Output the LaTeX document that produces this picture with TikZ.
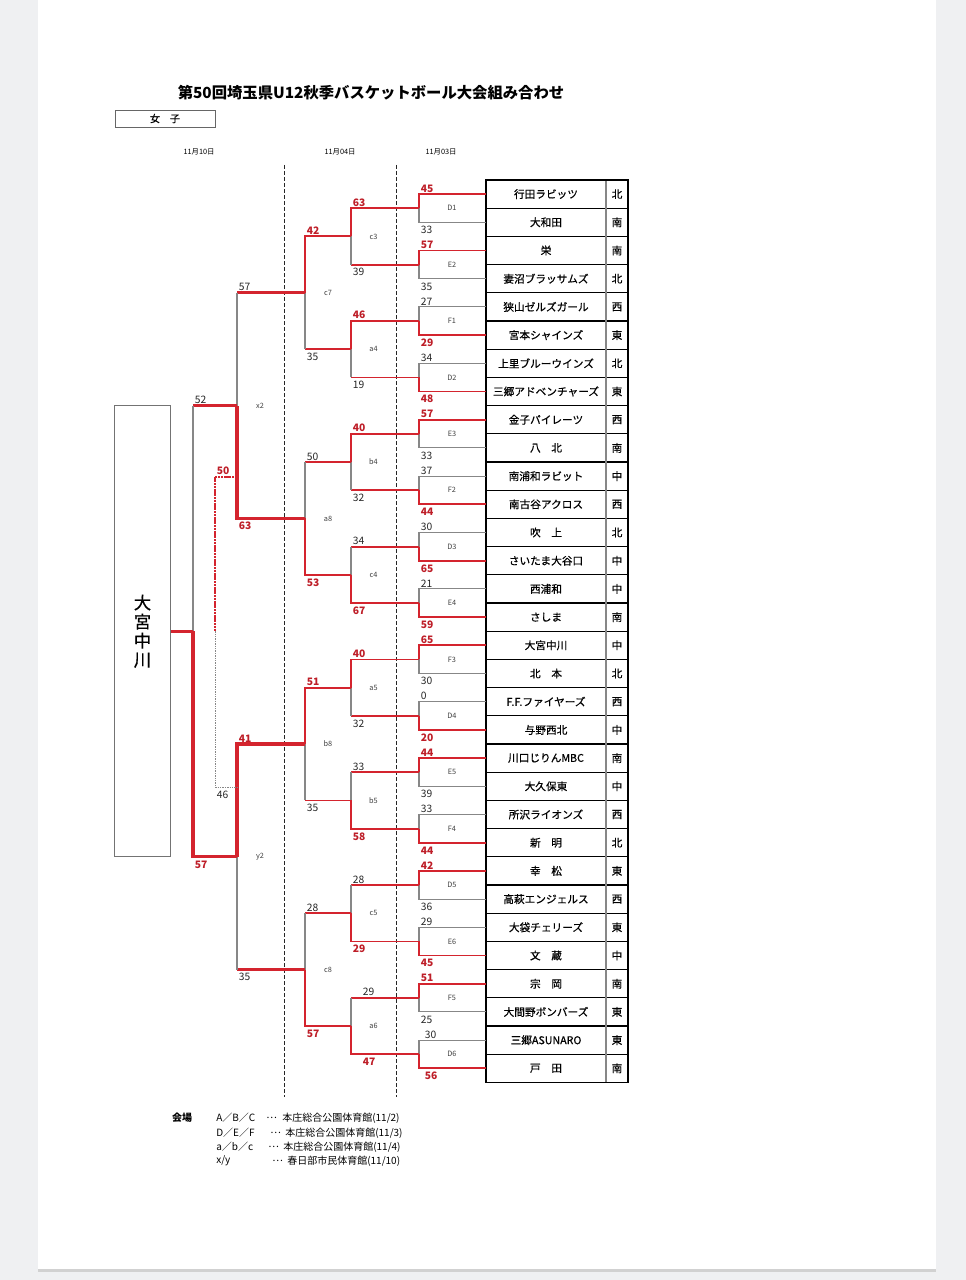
\documentclass[tikz,border=0pt]{standalone}
\usepackage{fontspec}
\setmainfont{Noto Sans CJK JP}
\newfontfamily\namefont[FakeBold=0.6]{Noto Sans CJK JP}
\usetikzlibrary{positioning,calc}

\definecolor{winred}{RGB}{212,36,46}
\definecolor{scred}{RGB}{190,30,40}
\definecolor{losegray}{RGB}{135,135,135}
\definecolor{pagebg}{RGB}{239,240,242}

\tikzset{
  team/.style={draw=black, line width=0.8pt, minimum width=90pt, minimum height=21.15pt,
    inner sep=0pt, outer sep=0pt, font=\namefont\fontsize{8}{9}\selectfont},
  area/.style={team, minimum width=16.5pt},
  win/.style={draw=winred, line width=1.35pt},
  winthick/.style={draw=winred, line width=2.3pt},
  lose/.style={draw=losegray, line width=0.8pt},
  wsc/.style={text=scred, font=\bfseries\fontsize{7.7}{8}\selectfont},
  lsc/.style={text=black!85, font=\fontsize{7.7}{8}\selectfont},
  up/.style={anchor=south west, inner sep=1.2pt},
  dn/.style={anchor=north west, inner sep=1.2pt, yshift=-1.5pt},
  mlbl/.style={text=black!75, font=\fontsize{5.5}{6}\selectfont},
  daylbl/.style={font=\fontsize{5.5}{6}\selectfont},
  divider/.style={draw=black!85, line width=0.75pt, dash pattern=on 3pt off 1.5pt},
  legend/.style={anchor=west, inner sep=0pt, font=\fontsize{7.5}{8}\selectfont},
}

\begin{document}
\begin{tikzpicture}[x=0.75pt, y=-0.75pt]
  \useasboundingbox (0,0) rectangle (966,1280);
  % Page
  \fill[pagebg] (0,0) rectangle (966,1280);
  \fill[black!18] (38,1269) rectangle (936,1272);
  \fill[white] (38,0) rectangle (936,1269);

  % Heading
  \node[font=\bfseries\fontsize{11.5}{12}\selectfont] (title) at (371,93) {第50回埼玉県U12秋季バスケットボール大会組み合わせ};
  \node[draw=black!60, line width=0.6pt, minimum width=75pt, minimum height=12.75pt, inner sep=0pt,
    font=\namefont\fontsize{7.5}{8}\selectfont] (sex) at (165,118.5) {女　子};
  \node[daylbl] (d1) at (199,152) {11月10日};
  \node[daylbl] (d2) at (340,152) {11月04日};
  \node[daylbl] (d3) at (441,152) {11月03日};
  \draw[divider] (284,165) -- (284,1097);
  \draw[divider] (396,165) -- (396,1097);

  % Teams
  \node[team, anchor=north west] (t1) at (486,180) {行田ラビッツ};
  \node[team, below=0pt of t1] (t2) {大和田};
  \node[team, below=0pt of t2] (t3) {栄};
  \node[team, below=0pt of t3] (t4) {妻沼ブラッサムズ};
  \node[team, below=0pt of t4] (t5) {狭山ゼルズガール};
  \node[team, below=0pt of t5] (t6) {宮本シャインズ};
  \node[team, below=0pt of t6] (t7) {上里ブルーウインズ};
  \node[team, below=0pt of t7] (t8) {三郷アドベンチャーズ};
  \node[team, below=0pt of t8] (t9) {金子パイレーツ};
  \node[team, below=0pt of t9] (t10) {八　北};
  \node[team, below=0pt of t10] (t11) {南浦和ラビット};
  \node[team, below=0pt of t11] (t12) {南古谷アクロス};
  \node[team, below=0pt of t12] (t13) {吹　上};
  \node[team, below=0pt of t13] (t14) {さいたま大谷口};
  \node[team, below=0pt of t14] (t15) {西浦和};
  \node[team, below=0pt of t15] (t16) {さしま};
  \node[team, below=0pt of t16] (t17) {大宮中川};
  \node[team, below=0pt of t17] (t18) {北　本};
  \node[team, below=0pt of t18] (t19) {F.F.ファイヤーズ};
  \node[team, below=0pt of t19] (t20) {与野西北};
  \node[team, below=0pt of t20] (t21) {川口じりんMBC};
  \node[team, below=0pt of t21] (t22) {大久保東};
  \node[team, below=0pt of t22] (t23) {所沢ライオンズ};
  \node[team, below=0pt of t23] (t24) {新　明};
  \node[team, below=0pt of t24] (t25) {幸　松};
  \node[team, below=0pt of t25] (t26) {高萩エンジェルス};
  \node[team, below=0pt of t26] (t27) {大袋チェリーズ};
  \node[team, below=0pt of t27] (t28) {文　蔵};
  \node[team, below=0pt of t28] (t29) {宗　岡};
  \node[team, below=0pt of t29] (t30) {大間野ボンバーズ};
  \node[team, below=0pt of t30] (t31) {三郷ASUNARO};
  \node[team, below=0pt of t31] (t32) {戸　田};

  % Districts
  \node[area, right=0pt of t1] (r1) {北};
  \node[area, right=0pt of t2] (r2) {南};
  \node[area, right=0pt of t3] (r3) {南};
  \node[area, right=0pt of t4] (r4) {北};
  \node[area, right=0pt of t5] (r5) {西};
  \node[area, right=0pt of t6] (r6) {東};
  \node[area, right=0pt of t7] (r7) {北};
  \node[area, right=0pt of t8] (r8) {東};
  \node[area, right=0pt of t9] (r9) {西};
  \node[area, right=0pt of t10] (r10) {南};
  \node[area, right=0pt of t11] (r11) {中};
  \node[area, right=0pt of t12] (r12) {西};
  \node[area, right=0pt of t13] (r13) {北};
  \node[area, right=0pt of t14] (r14) {中};
  \node[area, right=0pt of t15] (r15) {中};
  \node[area, right=0pt of t16] (r16) {南};
  \node[area, right=0pt of t17] (r17) {中};
  \node[area, right=0pt of t18] (r18) {北};
  \node[area, right=0pt of t19] (r19) {西};
  \node[area, right=0pt of t20] (r20) {中};
  \node[area, right=0pt of t21] (r21) {南};
  \node[area, right=0pt of t22] (r22) {中};
  \node[area, right=0pt of t23] (r23) {西};
  \node[area, right=0pt of t24] (r24) {北};
  \node[area, right=0pt of t25] (r25) {東};
  \node[area, right=0pt of t26] (r26) {西};
  \node[area, right=0pt of t27] (r27) {東};
  \node[area, right=0pt of t28] (r28) {中};
  \node[area, right=0pt of t29] (r29) {南};
  \node[area, right=0pt of t30] (r30) {東};
  \node[area, right=0pt of t31] (r31) {東};
  \node[area, right=0pt of t32] (r32) {南};
  \draw[losegray, line width=1.4pt] (t1.north east) -- (t32.south east);
  \draw[line width=1.2pt] (t1.north west) rectangle (r32.south east);

  % Round 1 (11/03)
  \coordinate (D1) at ($(t1.west)!.5!(t2.west)+(-67,0)$);
  \draw[lose] (t2.west) -| (D1); \draw[win] (t1.west) -| (D1);
  \node[wsc, up] (sD1a) at (t1.west -| D1) {45}; \node[lsc, dn] (sD1b) at (t2.west -| D1) {33};
  \node[mlbl] (lD1) at ($(D1)+(33,0)$) {D1};

  \coordinate (E2) at ($(t3.west)!.5!(t4.west)+(-67,0)$);
  \draw[lose] (t4.west) -| (E2); \draw[win] (t3.west) -| (E2);
  \node[wsc, up] (sE2a) at (t3.west -| E2) {57}; \node[lsc, dn] (sE2b) at (t4.west -| E2) {35};
  \node[mlbl] (lE2) at ($(E2)+(33,0)$) {E2};

  \coordinate (F1) at ($(t5.west)!.5!(t6.west)+(-67,0)$);
  \draw[lose] (t5.west) -| (F1); \draw[win] (t6.west) -| (F1);
  \node[lsc, up] (sF1a) at (t5.west -| F1) {27}; \node[wsc, dn] (sF1b) at (t6.west -| F1) {29};
  \node[mlbl] (lF1) at ($(F1)+(33,0)$) {F1};

  \coordinate (D2) at ($(t7.west)!.5!(t8.west)+(-67,0)$);
  \draw[lose] (t7.west) -| (D2); \draw[win] (t8.west) -| (D2);
  \node[lsc, up] (sD2a) at (t7.west -| D2) {34}; \node[wsc, dn] (sD2b) at (t8.west -| D2) {48};
  \node[mlbl] (lD2) at ($(D2)+(33,0)$) {D2};

  \coordinate (E3) at ($(t9.west)!.5!(t10.west)+(-67,0)$);
  \draw[lose] (t10.west) -| (E3); \draw[win] (t9.west) -| (E3);
  \node[wsc, up] (sE3a) at (t9.west -| E3) {57}; \node[lsc, dn] (sE3b) at (t10.west -| E3) {33};
  \node[mlbl] (lE3) at ($(E3)+(33,0)$) {E3};

  \coordinate (F2) at ($(t11.west)!.5!(t12.west)+(-67,0)$);
  \draw[lose] (t11.west) -| (F2); \draw[win] (t12.west) -| (F2);
  \node[lsc, up] (sF2a) at (t11.west -| F2) {37}; \node[wsc, dn] (sF2b) at (t12.west -| F2) {44};
  \node[mlbl] (lF2) at ($(F2)+(33,0)$) {F2};

  \coordinate (D3) at ($(t13.west)!.5!(t14.west)+(-67,0)$);
  \draw[lose] (t13.west) -| (D3); \draw[win] (t14.west) -| (D3);
  \node[lsc, up] (sD3a) at (t13.west -| D3) {30}; \node[wsc, dn] (sD3b) at (t14.west -| D3) {65};
  \node[mlbl] (lD3) at ($(D3)+(33,0)$) {D3};

  \coordinate (E4) at ($(t15.west)!.5!(t16.west)+(-67,0)$);
  \draw[lose] (t15.west) -| (E4); \draw[win] (t16.west) -| (E4);
  \node[lsc, up] (sE4a) at (t15.west -| E4) {21}; \node[wsc, dn] (sE4b) at (t16.west -| E4) {59};
  \node[mlbl] (lE4) at ($(E4)+(33,0)$) {E4};

  \coordinate (F3) at ($(t17.west)!.5!(t18.west)+(-67,0)$);
  \draw[lose] (t18.west) -| (F3); \draw[win] (t17.west) -| (F3);
  \node[wsc, up] (sF3a) at (t17.west -| F3) {65}; \node[lsc, dn] (sF3b) at (t18.west -| F3) {30};
  \node[mlbl] (lF3) at ($(F3)+(33,0)$) {F3};

  \coordinate (D4) at ($(t19.west)!.5!(t20.west)+(-67,0)$);
  \draw[lose] (t19.west) -| (D4); \draw[win] (t20.west) -| (D4);
  \node[lsc, up] (sD4a) at (t19.west -| D4) {0}; \node[wsc, dn] (sD4b) at (t20.west -| D4) {20};
  \node[mlbl] (lD4) at ($(D4)+(33,0)$) {D4};

  \coordinate (E5) at ($(t21.west)!.5!(t22.west)+(-67,0)$);
  \draw[lose] (t22.west) -| (E5); \draw[win] (t21.west) -| (E5);
  \node[wsc, up] (sE5a) at (t21.west -| E5) {44}; \node[lsc, dn] (sE5b) at (t22.west -| E5) {39};
  \node[mlbl] (lE5) at ($(E5)+(33,0)$) {E5};

  \coordinate (F4) at ($(t23.west)!.5!(t24.west)+(-67,0)$);
  \draw[lose] (t23.west) -| (F4); \draw[win] (t24.west) -| (F4);
  \node[lsc, up] (sF4a) at (t23.west -| F4) {33}; \node[wsc, dn] (sF4b) at (t24.west -| F4) {44};
  \node[mlbl] (lF4) at ($(F4)+(33,0)$) {F4};

  \coordinate (D5) at ($(t25.west)!.5!(t26.west)+(-67,0)$);
  \draw[lose] (t26.west) -| (D5); \draw[win] (t25.west) -| (D5);
  \node[wsc, up] (sD5a) at (t25.west -| D5) {42}; \node[lsc, dn] (sD5b) at (t26.west -| D5) {36};
  \node[mlbl] (lD5) at ($(D5)+(33,0)$) {D5};

  \coordinate (E6) at ($(t27.west)!.5!(t28.west)+(-67,0)$);
  \draw[lose] (t27.west) -| (E6); \draw[win] (t28.west) -| (E6);
  \node[lsc, up] (sE6a) at (t27.west -| E6) {29}; \node[wsc, dn] (sE6b) at (t28.west -| E6) {45};
  \node[mlbl] (lE6) at ($(E6)+(33,0)$) {E6};

  \coordinate (F5) at ($(t29.west)!.5!(t30.west)+(-67,0)$);
  \draw[lose] (t30.west) -| (F5); \draw[win] (t29.west) -| (F5);
  \node[wsc, up] (sF5a) at (t29.west -| F5) {51}; \node[lsc, dn] (sF5b) at (t30.west -| F5) {25};
  \node[mlbl] (lF5) at ($(F5)+(33,0)$) {F5};

  \coordinate (D6) at ($(t31.west)!.5!(t32.west)+(-67,0)$);
  \draw[lose] (t31.west) -| (D6); \draw[win] (t32.west) -| (D6);
  \node[lsc, up, xshift=3pt] (sD6a) at (t31.west -| D6) {30}; \node[wsc, dn, xshift=3pt] (sD6b) at (t32.west -| D6) {56};
  \node[mlbl] (lD6) at ($(D6)+(33,0)$) {D6};

  % Round 2 (11/04)
  \coordinate (c3) at ($(D1)!.5!(E2)+(-68,0)$);
  \draw[win] (E2) -- (E2 -| c3) edge[lose] (c3); \draw[win] (D1) -| (c3);
  \node[wsc, up] (sc3a) at (D1 -| c3) {63}; \node[lsc, dn] (sc3b) at (E2 -| c3) {39};
  \node[mlbl] (lc3) at ($(c3)+(22.5,0)$) {c3};

  \coordinate (a4) at ($(F1)!.5!(D2)+(-68,0)$);
  \draw[win] (D2) -- (D2 -| a4) edge[lose] (a4); \draw[win] (F1) -| (a4);
  \node[wsc, up] (sa4a) at (F1 -| a4) {46}; \node[lsc, dn] (sa4b) at (D2 -| a4) {19};
  \node[mlbl] (la4) at ($(a4)+(22.5,0)$) {a4};

  \coordinate (b4) at ($(E3)!.5!(F2)+(-68,0)$);
  \draw[win] (F2) -- (F2 -| b4) edge[lose] (b4); \draw[win] (E3) -| (b4);
  \node[wsc, up] (sb4a) at (E3 -| b4) {40}; \node[lsc, dn] (sb4b) at (F2 -| b4) {32};
  \node[mlbl] (lb4) at ($(b4)+(22.5,0)$) {b4};

  \coordinate (c4) at ($(D3)!.5!(E4)+(-68,0)$);
  \draw[win] (D3) -- (D3 -| c4) edge[lose] (c4); \draw[win] (E4) -| (c4);
  \node[lsc, up] (sc4a) at (D3 -| c4) {34}; \node[wsc, dn] (sc4b) at (E4 -| c4) {67};
  \node[mlbl] (lc4) at ($(c4)+(22.5,0)$) {c4};

  \coordinate (a5) at ($(F3)!.5!(D4)+(-68,0)$);
  \draw[win] (D4) -- (D4 -| a5) edge[lose] (a5); \draw[win] (F3) -| (a5);
  \node[wsc, up] (sa5a) at (F3 -| a5) {40}; \node[lsc, dn] (sa5b) at (D4 -| a5) {32};
  \node[mlbl] (la5) at ($(a5)+(22.5,0)$) {a5};

  \coordinate (b5) at ($(E5)!.5!(F4)+(-68,0)$);
  \draw[win] (E5) -- (E5 -| b5) edge[lose] (b5); \draw[win] (F4) -| (b5);
  \node[lsc, up] (sb5a) at (E5 -| b5) {33}; \node[wsc, dn] (sb5b) at (F4 -| b5) {58};
  \node[mlbl] (lb5) at ($(b5)+(22.5,0)$) {b5};

  \coordinate (c5) at ($(D5)!.5!(E6)+(-68,0)$);
  \draw[win] (D5) -- (D5 -| c5) edge[lose] (c5); \draw[win] (E6) -| (c5);
  \node[lsc, up] (sc5a) at (D5 -| c5) {28}; \node[wsc, dn] (sc5b) at (E6 -| c5) {29};
  \node[mlbl] (lc5) at ($(c5)+(22.5,0)$) {c5};

  \coordinate (a6) at ($(F5)!.5!(D6)+(-68,0)$);
  \draw[win] (F5) -- (F5 -| a6) edge[lose] (a6); \draw[win] (D6) -| (a6);
  \node[lsc, up, xshift=7.5pt] (sa6a) at (F5 -| a6) {29}; \node[wsc, dn, xshift=7.5pt] (sa6b) at (D6 -| a6) {47};
  \node[mlbl] (la6) at ($(a6)+(22.5,0)$) {a6};

  % Round 3
  \coordinate (c7) at ($(c3)!.5!(a4)+(-46,0)$);
  \draw[win] (a4) -- (a4 -| c7) edge[lose] (c7); \draw[win] (c3) -| (c7);
  \node[wsc, up] (sc7a) at (c3 -| c7) {42}; \node[lsc, dn] (sc7b) at (a4 -| c7) {35};
  \node[mlbl] (lc7) at ($(c7)+(23,0)$) {c7};

  \coordinate (a8) at ($(b4)!.5!(c4)+(-46,0)$);
  \draw[win] (b4) -- (b4 -| a8) edge[lose] (a8); \draw[win] (c4) -| (a8);
  \node[lsc, up] (sa8a) at (b4 -| a8) {50}; \node[wsc, dn] (sa8b) at (c4 -| a8) {53};
  \node[mlbl] (la8) at ($(a8)+(23,0)$) {a8};

  \coordinate (b8) at ($(a5)!.5!(b5)+(-46,0)$);
  \draw[win] (b5) -- (b5 -| b8) edge[lose] (b8); \draw[win] (a5) -| (b8);
  \node[wsc, up] (sb8a) at (a5 -| b8) {51}; \node[lsc, dn] (sb8b) at (b5 -| b8) {35};
  \node[mlbl] (lb8) at ($(b8)+(23,0)$) {b8};

  \coordinate (c8) at ($(c5)!.5!(a6)+(-46,0)$);
  \draw[win] (c5) -- (c5 -| c8) edge[lose] (c8); \draw[win] (a6) -| (c8);
  \node[lsc, up] (sc8a) at (c5 -| c8) {28}; \node[wsc, dn] (sc8b) at (a6 -| c8) {57};
  \node[mlbl] (lc8) at ($(c8)+(23,0)$) {c8};

  % Round 4 (11/10)
  \coordinate (x2) at ($(c7)!.5!(a8)+(-68,0)$);
  \draw[winthick] (c7) -- (c7 -| x2) edge[lose] (x2); \draw[winthick] (a8) -| (x2);
  \node[lsc, up] (sx2a) at (c7 -| x2) {57}; \node[wsc, dn] (sx2b) at (a8 -| x2) {63};
  \node[mlbl] (lx2) at ($(x2)+(23,0)$) {x2};

  \coordinate (y2) at ($(b8)!.5!(c8)+(-68,0)$);
  \draw[winthick] (c8) -- (c8 -| y2) edge[lose] (y2); \draw[winthick] (b8) -| (y2);
  \node[wsc, up] (sy2a) at (b8 -| y2) {41}; \node[lsc, dn] (sy2b) at (c8 -| y2) {35};
  \node[mlbl] (ly2) at ($(y2)+(23,0)$) {y2};

  % Final
  \coordinate (fin) at ($(x2)!.5!(y2)+(-44,0)$);
  \node[draw=black!55, line width=0.75pt, minimum width=42pt, minimum height=338.4pt, inner sep=0pt,
    left=16.5pt of fin, align=center, font=\namefont\fontsize{13}{14.3}\selectfont] (champ) {大\\宮\\中\\川};
  \draw[winthick] (x2) -- (x2 -| fin) edge[lose] (fin); \draw[winthick] (y2) -| (fin);
  \draw[winthick] (fin) -- (champ);
  \node[lsc, up] (sfa) at (x2 -| fin) {52}; \node[wsc, dn] (sfb) at (y2 -| fin) {57};

  % Dotted side line
  \coordinate (p50) at (215,477);
  \coordinate (p46) at (215,787);
  \draw[winred, line width=2pt, dash pattern=on 1.6pt off 0.5pt] (p50 -| x2) -- (p50) -- (p50 |- fin);
  \draw[losegray, line width=0.7pt, dash pattern=on 1pt off 0.8pt] (p50 |- fin) -- (p46) -- (p46 -| y2);
  \node[wsc, up] (s50) at (p50) {50}; \node[lsc, dn] (s46) at (p46) {46};

  % Venues
  \node[font=\bfseries\fontsize{7.5}{8}\selectfont] (venue) at (182,1118) {会場};
  \node[legend] (v1) at (216,1118) {A／B／C};
  \node[legend] (v2) at (216,1133) {D／E／F};
  \node[legend] (v3) at (216,1147) {a／b／c};
  \node[legend] (v4) at (216,1161) {x/y};
  \node[legend] (e1) at (266,1118) {…};
  \node[legend] (e2) at (270,1133) {…};
  \node[legend] (e3) at (268,1147) {…};
  \node[legend] (e4) at (272,1161) {…};
  \node[legend] (h1) at (282,1118) {本庄総合公園体育館(11/2)};
  \node[legend] (h2) at (285,1133) {本庄総合公園体育館(11/3)};
  \node[legend] (h3) at (283,1147) {本庄総合公園体育館(11/4)};
  \node[legend] (h4) at (287,1161) {春日部市民体育館(11/10)};
\end{tikzpicture}
\end{document}
